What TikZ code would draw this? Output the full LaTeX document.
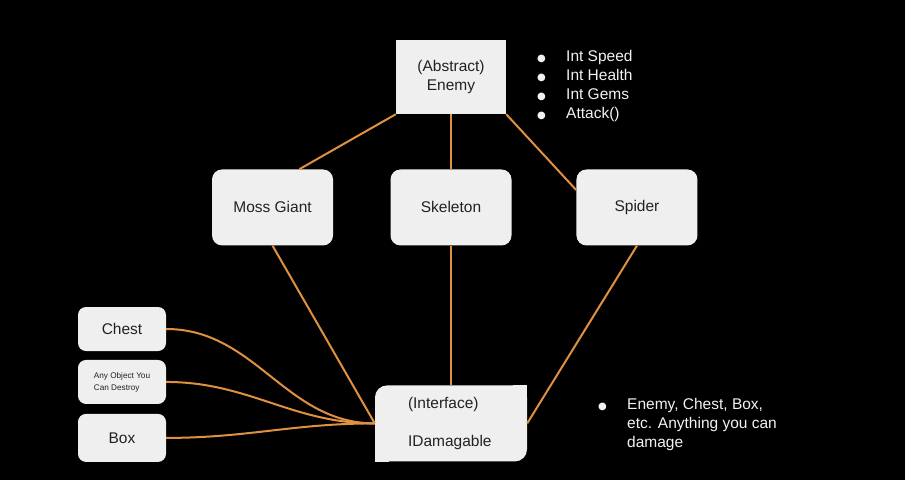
\documentclass[tikz,border=0pt]{standalone}
\usepackage{fontspec}
\setmainfont{Liberation Sans}
\newfontfamily\dotfont{DejaVu Sans}
\usetikzlibrary{shapes.geometric, arrows}
\definecolor{boxgray}{HTML}{EFEFEF}
\definecolor{inkgray}{HTML}{222222}
\definecolor{linkorange}{HTML}{E0913F}
\definecolor{notewhite}{HTML}{F2F2F2}
\newcommand{\dotitem}{\makebox[29pt][l]{{\dotfont\fontsize{10}{10}\selectfont ●}}}
\newcommand{\dotgap}{\hspace*{29pt}}
\tikzstyle{abstract} = [rectangle, minimum width=110pt, minimum height=74pt, text centered, align=center, fill=boxgray, text=inkgray]
\tikzstyle{child} = [rectangle, rounded corners=10pt, minimum width=121pt, minimum height=76pt, text centered, fill=boxgray, text=inkgray]
\tikzstyle{damageable} = [rectangle, rounded corners=8pt, minimum width=88pt, minimum height=44pt, text centered, fill=boxgray, text=inkgray]
\tikzstyle{interface} = [rectangle, rounded corners=12pt, minimum width=152pt, minimum height=76pt, text width=86pt, align=left, inner xsep=0pt, fill=boxgray, text=inkgray]
\tikzstyle{note} = [align=left, text=notewhite, inner sep=0pt, anchor=west]
\tikzstyle{link} = [line width=2pt, draw=linkorange]

\begin{document}
\begin{tikzpicture}[x=1pt, y=-1pt, font=\fontsize{15.5}{18.7}\selectfont]
\fill[black] (0,0) rectangle (905,480);
\useasboundingbox (0,0) rectangle (905,480);

\node (enemy) [abstract] at (451,77) {(Abstract)\\Enemy};

\node (stats) [note] at (537,86) {\dotitem Int Speed\\\dotitem Int Health\\\dotitem Int Gems\\\dotitem Attack()};

\node (skeleton) [child, below of=enemy, yshift=-102pt] {Skeleton};

\node (mossgiant) [child, left of=skeleton, xshift=-150pt] {Moss Giant};

\node (spider) [child, right of=skeleton, xshift=157.5pt] {Spider};

\node (idmg) [interface, below of=skeleton, yshift=-187.5pt] {(Interface)\\[18.5pt]IDamagable};
\fill[boxgray] (idmg.north east) rectangle ([xshift=-14pt,yshift=-14pt]idmg.north east);
\fill[boxgray] (idmg.south west) rectangle ([xshift=14pt,yshift=14pt]idmg.south west);

\node (chest) [damageable] at (122,329) {Chest};

\node (anyobj) [damageable, below of=chest, yshift=-24.5pt, align=left, font=\fontsize{8.2}{12}\selectfont] {Any Object You\\Can Destroy};

\node (box) [damageable, below of=anyobj, yshift=-27.5pt, minimum height=48pt] {Box};

\node (hint) [note] at (598,424.5) {\dotitem Enemy, Chest, Box,\\\dotgap etc. Anything you can\\\dotgap damage};

\draw [link] (enemy.south west) -- (mossgiant.55);
\draw [link] (enemy) -- (skeleton);
\draw [link] (enemy.south east) -- (spider.164);
\draw [link] (mossgiant.south) -- (idmg.west);
\draw [link] (skeleton) -- (idmg);
\draw [link] (spider.south) -- (idmg.east);
\draw [link] (chest.east) to[out=0, in=180] (idmg.west);
\draw [link] (anyobj.east) to[out=0, in=180] (idmg.west);
\draw [link] (box.east) to[out=0, in=180] (idmg.west);
\end{tikzpicture}
\end{document}
